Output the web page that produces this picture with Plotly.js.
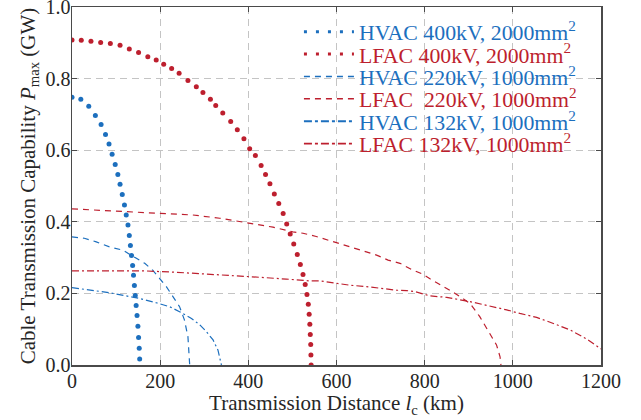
<!DOCTYPE html>
<html>
<head>
<meta charset="utf-8">
<script src="https://cdn.plot.ly/plotly-3.0.1.min.js"></script>
<style>html,body{margin:0;padding:0;background:#fff;}#chart{width:641px;height:420px;}</style>
</head>
<body>
<div id="chart"></div>
<script>
// ---- data ----
var hv400_x = [0, 20, 38, 53, 66, 76, 84, 91, 98, 104, 109, 114, 119, 123, 127, 130, 132.5, 135, 137.5, 139.5, 141.5, 143.5, 145.5, 147.5, 149.5, 151, 152.5, 153.5];
var hv400_y = [0.748, 0.742, 0.723, 0.697, 0.672, 0.644, 0.617, 0.589, 0.560, 0.532, 0.505, 0.476, 0.447, 0.419, 0.391, 0.362, 0.334, 0.306, 0.278, 0.251, 0.222, 0.194, 0.166, 0.138, 0.108, 0.077, 0.047, 0.017];

var lf400_x = [0, 21, 43, 65, 87, 109, 130, 151, 172, 191, 208, 226, 243, 263, 282, 297, 314, 326, 342, 360, 375, 390, 403, 416, 429, 439, 449, 459, 469, 479, 487, 495, 503, 511, 518, 524, 529, 533, 536, 538, 539.5, 540.5, 541.5, 542, 542.5];
var lf400_y = [0.908, 0.907, 0.904, 0.901, 0.898, 0.893, 0.883, 0.873, 0.861, 0.852, 0.840, 0.828, 0.815, 0.795, 0.777, 0.761, 0.742, 0.725, 0.704, 0.680, 0.657, 0.632, 0.604, 0.585, 0.557, 0.532, 0.506, 0.478, 0.451, 0.423, 0.394, 0.366, 0.338, 0.309, 0.281, 0.253, 0.225, 0.197, 0.170, 0.142, 0.114, 0.085, 0.057, 0.028, 0.0];

var hv220_x = [0, 28, 55, 85, 115, 142, 165, 183, 199, 214, 229, 244, 255, 263, 267];
var hv220_y = [0.358, 0.354, 0.344, 0.330, 0.321, 0.302, 0.284, 0.265, 0.242, 0.219, 0.191, 0.163, 0.126, 0.079, 0.0];

var lf220_x = [0, 47, 123, 199, 274, 335, 395, 456, 501, 524, 554, 585, 615, 641, 668, 691, 717, 744, 770, 797, 812, 838, 857, 880, 903, 925, 948, 963, 971, 973];
var lf220_y = [0.436, 0.433, 0.430, 0.425, 0.419, 0.410, 0.398, 0.385, 0.372, 0.368, 0.359, 0.347, 0.337, 0.326, 0.315, 0.307, 0.293, 0.284, 0.267, 0.253, 0.241, 0.223, 0.209, 0.191, 0.172, 0.135, 0.089, 0.056, 0.023, 0.0];

var hv132_x = [0, 47, 85, 123, 153, 191, 221, 244, 271, 290, 305, 320, 331, 339];
var hv132_y = [0.216, 0.209, 0.202, 0.193, 0.186, 0.174, 0.163, 0.149, 0.130, 0.112, 0.093, 0.070, 0.042, 0.0];

var lf132_x = [0, 85, 161, 237, 312, 373, 426, 486, 539, 562, 585, 604, 630, 668, 691, 717, 736, 759, 778, 812, 850, 903, 948, 986, 1016, 1054, 1092, 1130, 1168, 1200];
var lf132_y = [0.263, 0.263, 0.263, 0.259, 0.254, 0.249, 0.245, 0.240, 0.235, 0.235, 0.231, 0.228, 0.223, 0.219, 0.216, 0.211, 0.209, 0.208, 0.205, 0.193, 0.189, 0.177, 0.165, 0.154, 0.144, 0.133, 0.116, 0.098, 0.072, 0.045];

var seriesNames = [
  'HVAC 400kV, 2000mm<sup>2</sup>',
  'LFAC 400kV, 2000mm<sup>2</sup>',
  'HVAC 220kV, 1000mm<sup>2</sup>',
  'LFAC\u00a0 220kV, 1000mm<sup>2</sup>',
  'HVAC 132kV, 1000mm<sup>2</sup>',
  'LFAC 132kV, 1000mm<sup>2</sup>'
];
var xTicks = [0, 200, 400, 600, 800, 1000, 1200];
var yTicks = [0, 0.2, 0.4, 0.6, 0.8, 1.0];

// ---- styling ----
var BLUE = '#1c6fbe';
var RED = '#bd1f2e';
var FONT = 'Liberation Serif, Times New Roman, serif';
var dashStyle = '6px,5px';
var dashDotStyle = '7px,3px,2px,3px';

function colored(name, c) { return '<span style="color:' + c + '">' + name + '</span>'; }

var traces = [
  {x: hv400_x, y: hv400_y, mode: 'markers', marker: {color: BLUE, size: 5}, showlegend: false},
  {x: lf400_x, y: lf400_y, mode: 'markers', marker: {color: RED, size: 5}, showlegend: false},
  {x: hv220_x, y: hv220_y, mode: 'lines', line: {color: BLUE, width: 1.2, dash: dashStyle}, showlegend: false},
  {x: lf220_x, y: lf220_y, mode: 'lines', line: {color: RED, width: 1.2, dash: dashStyle}, showlegend: false},
  {x: hv132_x, y: hv132_y, mode: 'lines', line: {color: BLUE, width: 1.2, dash: dashDotStyle}, showlegend: false},
  {x: lf132_x, y: lf132_y, mode: 'lines', line: {color: RED, width: 1.2, dash: dashDotStyle}, showlegend: false}
];

// legend entries (one legend per row so that row spacing matches)
var legendLines = [
  {color: BLUE, width: 3, dash: '3px,9px'},
  {color: RED, width: 3, dash: '3px,9px'},
  {color: BLUE, width: 1.5, dash: dashStyle},
  {color: RED, width: 1.5, dash: dashStyle},
  {color: BLUE, width: 1.8, dash: '8px,3px,3px,3px'},
  {color: RED, width: 1.8, dash: '8px,3px,3px,3px'}
];
var legendColors = [BLUE, RED, BLUE, RED, BLUE, RED];
var layoutLegends = {};
for (var i = 0; i < 6; i++) {
  var lid = i === 0 ? 'legend' : 'legend' + (i + 1);
  traces.push({
    x: [null], y: [null], mode: 'lines', line: legendLines[i],
    name: colored(seriesNames[i], legendColors[i]),
    legend: lid, showlegend: true, hoverinfo: 'skip'
  });
  var rowPx = 32 + 22.4 * i;
  layoutLegends[lid] = {
    x: 0.429, xanchor: 'left',
    y: (365 - rowPx) / 358, yanchor: 'middle',
    bgcolor: 'rgba(0,0,0,0)', borderwidth: 0,
    itemwidth: 50,
    font: {family: FONT, size: 21.8, color: '#222'}
  };
}

var layout = Object.assign({
  width: 641, height: 420,
  margin: {l: 72, r: 40, t: 7, b: 55},
  paper_bgcolor: '#fff', plot_bgcolor: '#fff',
  font: {family: FONT, size: 20, color: '#262626'},
  xaxis: {
    range: [0, 1200], tickvals: xTicks, ticktext: xTicks.map(String),
    showgrid: true, gridcolor: '#c4c4c4', gridwidth: 1, griddash: '7px,5px',
    zeroline: false, showline: true, linecolor: '#4a4a4a', linewidth: 1.5,
    mirror: 'ticks', ticks: 'inside', ticklen: 5, tickcolor: '#4a4a4a', tickwidth: 1.2,
    ticklabelstandoff: -3, ticklabeloverflow: 'allow',
    tickfont: {family: FONT, size: 20, color: '#262626'},
    title: {text: 'Transmission Distance <i>l</i><sub>c</sub> (km)', font: {family: FONT, size: 21, color: '#262626'}, standoff: 0}
  },
  yaxis: {
    range: [0, 1.0], tickvals: yTicks, tickformat: '.1f',
    showgrid: true, gridcolor: '#c4c4c4', gridwidth: 1, griddash: '7px,5px',
    zeroline: false, showline: true, linecolor: '#4a4a4a', linewidth: 1.5,
    mirror: 'ticks', ticks: 'inside', ticklen: 5, tickcolor: '#4a4a4a', tickwidth: 1.2,
    ticklabelstandoff: -4, ticklabeloverflow: 'allow',
    tickfont: {family: FONT, size: 20, color: '#262626'},
    title: {text: 'Cable Transmission Capability <i>P</i><sub>max</sub> (GW)', font: {family: FONT, size: 21, color: '#262626'}, standoff: 4}
  },
  showlegend: true
}, layoutLegends);

Plotly.newPlot('chart', traces, layout, {displayModeBar: false, staticPlot: true});
</script>
</body>
</html>
